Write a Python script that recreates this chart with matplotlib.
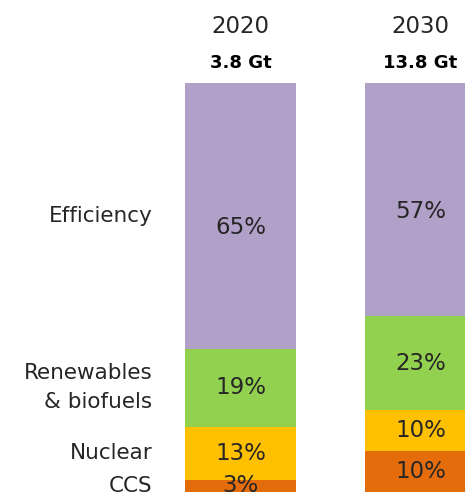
import matplotlib.pyplot as plt
import numpy as np

# emission-reduction shares by measure, per year
years = ["2020", "2030"]
totals = ["3.8 Gt", "13.8 Gt"]
measures = ["CCS", "Nuclear", "Renewables\n& biofuels", "Efficiency"]
shares = {
    "CCS": [3, 10],
    "Nuclear": [13, 10],
    "Renewables\n& biofuels": [19, 23],
    "Efficiency": [65, 57],
}
colors = ["#E46C0A", "#FFC000", "#92D050", "#B1A0C7"]

plt.rcParams['font.family'] = ['DejaVu Sans']
txt = "#262626"

fig = plt.figure(figsize=(4.65, 4.95), dpi=100)
ax = fig.add_axes([0, 3 / 495, 1, 409 / 495])

x = np.arange(len(years))
w = 0.617
bottom = np.zeros(len(years))
for m, c in zip(measures, colors):
    vals = np.array(shares[m])
    ax.bar(x, vals, w, bottom=bottom, color=c, edgecolor="none")
    for i, v in enumerate(vals):
        yc = bottom[i] + v / 2
        if m == "Efficiency":
            yc -= 2.8
        ax.text(x[i], yc, f"{v}%", ha="center", va="center",
                fontsize=16.5, color=txt)
    # category name on the left, next to the first bar's segment
    yl = bottom[0] + vals[0] / 2
    ax.text(-0.49, yl, m, ha="right", va="center", fontsize=15.5,
            color=txt, linespacing=1.55)
    bottom += vals

for i in range(len(years)):
    ax.text(x[i], 113.7, years[i], ha="center", va="center", fontsize=16.5,
            color=txt, clip_on=False)
    ax.text(x[i], 104.9, totals[i], ha="center", va="center", fontsize=13,
            fontweight="bold", color="black", clip_on=False)

ax.set_xlim(-1.336, 1.247)
ax.set_ylim(0, 100)
ax.axis("off")

fig.savefig("out.png", dpi=100)
